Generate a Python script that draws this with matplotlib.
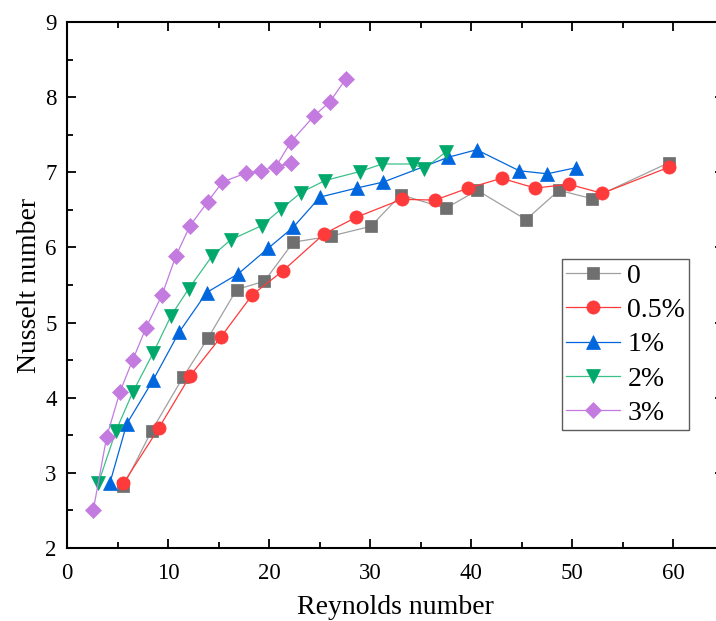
import matplotlib
matplotlib.use("Agg")
import matplotlib.pyplot as plt
from matplotlib.ticker import MultipleLocator

plt.rcParams['font.family'] = ['Liberation Serif', 'DejaVu Serif']

labels = ["0", "0.5%", "1%", "2%", "3%"]

re_0 = [5.58, 8.38, 11.52, 13.99, 16.8, 19.54, 22.41, 26.1, 30.07, 33.07, 37.49, 40.62, 45.45, 48.71, 51.95, 59.63]
nu_0 = [2.82, 3.56, 4.28, 4.80, 5.44, 5.55, 6.07, 6.15, 6.28, 6.70, 6.52, 6.76, 6.37, 6.76, 6.65, 7.13]

re_05 = [5.58, 9.11, 12.18, 15.25, 18.35, 21.39, 25.45, 28.61, 33.14, 36.44, 39.73, 43.04, 46.34, 49.7, 53.0, 59.63]
nu_05 = [2.86, 3.60, 4.29, 4.81, 5.37, 5.69, 6.18, 6.40, 6.64, 6.63, 6.79, 6.92, 6.79, 6.84, 6.72, 7.07]

re_1 = [4.26, 5.91, 8.55, 11.09, 13.83, 16.96, 19.93, 22.41, 25.05, 28.68, 31.32, 37.75, 40.56, 44.78, 47.56, 50.36]
nu_1 = [2.87, 3.65, 4.24, 4.87, 5.40, 5.65, 5.99, 6.27, 6.67, 6.79, 6.87, 7.20, 7.30, 7.02, 6.98, 7.06]

re_2 = [3.10, 4.85, 6.5, 8.55, 10.3, 12.05, 14.39, 16.2, 19.27, 21.19, 23.17, 25.54, 29.0, 31.2, 34.22, 35.38, 37.5]
nu_2 = [2.86, 3.56, 4.07, 4.60, 5.09, 5.45, 5.89, 6.10, 6.29, 6.51, 6.73, 6.89, 7.01, 7.11, 7.11, 7.05, 7.27]

re_3 = [2.61, 3.93, 5.25, 6.5, 7.82, 9.42, 10.76, 12.18, 13.96, 15.38, 17.72, 19.17, 22.14, 20.66, 22.14, 24.46, 26.04, 27.59]
nu_3 = [2.51, 3.48, 4.08, 4.50, 4.93, 5.37, 5.88, 6.29, 6.61, 6.87, 6.99, 7.02, 7.12, 7.07, 7.40, 7.75, 7.94, 8.24]

series = [
    (re_0, nu_0, 's', '#6f6f6f', '#a0a0a0', 8),
    (re_05, nu_05, 'o', '#ff3a3a', '#ff3a3a', 9.5),
    (re_1, nu_1, '^', '#0066dd', '#0066dd', 10),
    (re_2, nu_2, 'v', '#00a86b', '#3cc08a', 10),
    (re_3, nu_3, 'D', '#c47be0', '#c47be0', 8),
]

fig = plt.figure(figsize=(7.16, 6.21), dpi=100)
ax = fig.add_axes([67/716, 73/621, 656.5/716, 526/621])

for (x, y, m, mc, lc, ms), lab in zip(series, labels):
    ax.plot(x, y, color=lc, linewidth=0.9, marker=m, markersize=ms,
            markerfacecolor=mc, markeredgecolor=mc, markeredgewidth=0.5, label=lab)

ax.set_xlim(0, 65)
ax.set_ylim(2, 9)
ax.xaxis.set_major_locator(MultipleLocator(10))
ax.xaxis.set_minor_locator(MultipleLocator(5))
ax.yaxis.set_major_locator(MultipleLocator(1))
ax.yaxis.set_minor_locator(MultipleLocator(0.5))
ax.tick_params(which='both', direction='in', top=True, right=True, width=1.3, labelsize=16.5)
ax.tick_params(which='major', length=6.5)
ax.tick_params(which='minor', length=4)
ax.tick_params(axis='x', which='both', pad=10.5)
ax.tick_params(axis='y', which='both', pad=7.5)
for s in ax.spines.values():
    s.set_linewidth(1.5)

ax.set_xlabel("Reynolds number", fontsize=20, labelpad=8)
ax.set_ylabel("Nusselt number", fontsize=20, labelpad=2)

leg = ax.legend(loc='upper left', bbox_to_anchor=((562 - 67) / 656.5, 1 - (259 - 22) / 526),
                bbox_transform=ax.transAxes, fontsize=20, frameon=True, fancybox=False,
                edgecolor='#333333', handlelength=1.95, labelspacing=0.32,
                borderpad=0.15, handletextpad=0.25, borderaxespad=0)
leg.get_frame().set_linewidth(1.0)

fig.savefig("out.png", dpi=100)
